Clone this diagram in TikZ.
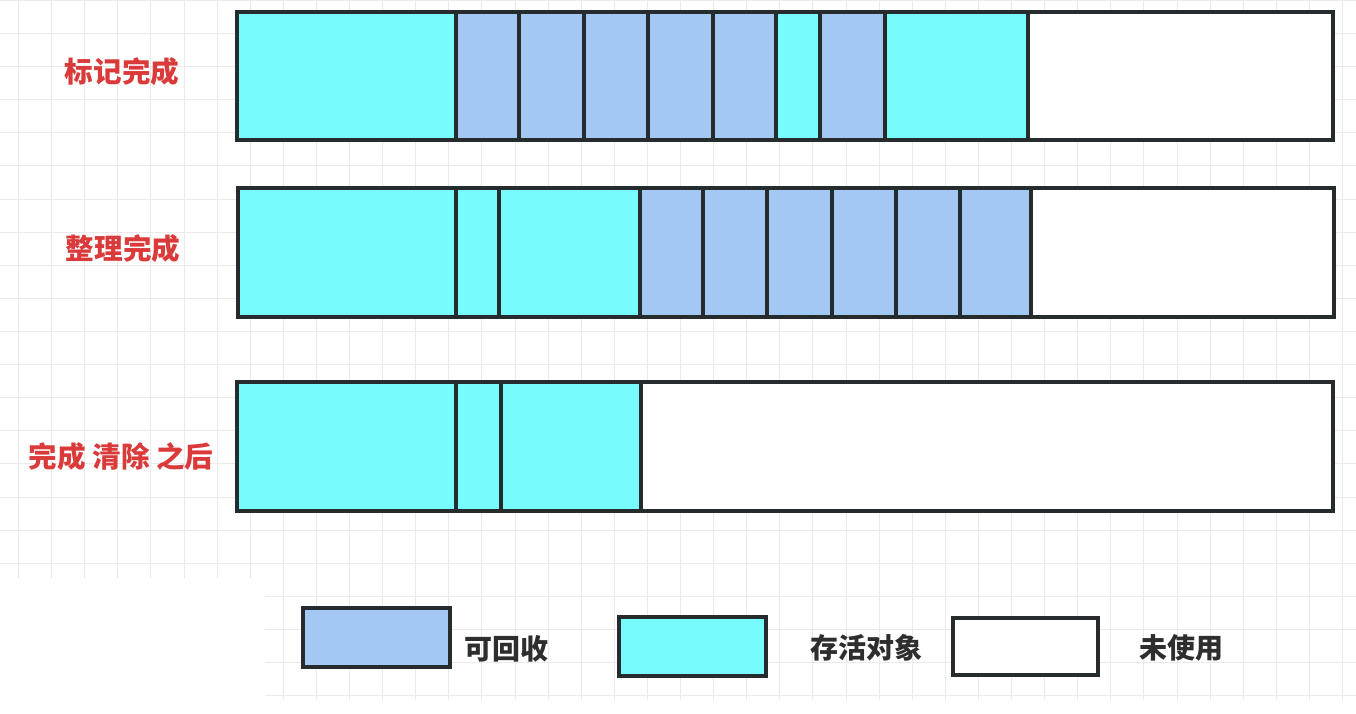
\documentclass[tikz,border=0pt]{standalone}
\usepackage{fontspec}
\newfontfamily\cjk{Noto Sans CJK SC}
\definecolor{live}{HTML}{78FBFC}
\definecolor{free}{HTML}{A4C8F4}
\definecolor{unused}{HTML}{FFFFFF}
\definecolor{edge}{HTML}{262C2E}
\definecolor{gridc}{HTML}{EAEAEA}
\definecolor{labred}{HTML}{DB3A3A}
\definecolor{legtext}{HTML}{2E2E2E}
\begin{document}
\begin{tikzpicture}[x=1pt,y=-1pt,
  cell/.style={rectangle, draw=edge, line width=3.4pt, inner sep=0pt, outer sep=0pt, anchor=north west},
  lab/.style={font=\cjk\bfseries\fontsize{28.6}{32}\selectfont, text=labred, inner sep=0pt},
  leg/.style={font=\cjk\bfseries\fontsize{28}{32}\selectfont, text=legtext, inner sep=0pt}]
\useasboundingbox (0,0) rectangle (1356,714);
\fill[white] (0,0) rectangle (1356,714);
% faint background grid
\begin{scope}
\clip (0,0) -- (1356,0) -- (1356,700) -- (265,700) -- (265,578) -- (0,578) -- cycle;
\foreach \k in {0,...,40} \draw[gridc, line width=1pt] ({18.5+33.1*\k},0) -- ++(0,714);
\foreach \k in {0,...,21} \draw[gridc, line width=1pt] (0,{0.5+33.1*\k}) -- ++(1356,0);
\end{scope}
% row 1: marking done
\foreach \a/\b/\c [count=\i] in {237/456/live, 456/519/free, 519/584/free, 584/648/free, 648/713/free, 713/776/free, 776/820/live, 820/885/free, 885/1028/live, 1028/1333/unused}
  \node[cell, fill=\c, minimum width={(\b-\a)*1pt}, minimum height=128pt] (ra\i) at (\a,12) {};
% row 2: compaction done
\foreach \a/\b/\c [count=\i] in {238/456/live, 456/499/live, 499/640/live, 640/703/free, 703/767/free, 767/832/free, 832/896/free, 896/960/free, 960/1031/free, 1031/1334/unused}
  \node[cell, fill=\c, minimum width={(\b-\a)*1pt}, minimum height=129pt] (rb\i) at (\a,188) {};
% row 3: after clearing
\foreach \a/\b/\c [count=\i] in {237/456/live, 456/501/live, 501/641/live, 641/1333/unused}
  \node[cell, fill=\c, minimum width={(\b-\a)*1pt}, minimum height=129pt] (rc\i) at (\a,382) {};
% row labels
\node[lab] (la) at (122,72) {标记完成};
\node[lab] (lb) at (123,249) {整理完成};
\node[lab] (lc) at (121,457) {完成 清除 之后};
% legend
\node[cell, fill=free, minimum width=147pt, minimum height=59pt] (kfree) at (303,608) {};
\node[leg] (tfree) at (506,649) {可回收};
\node[cell, fill=live, minimum width=147pt, minimum height=59pt] (klive) at (619,617) {};
\node[leg] (tlive) at (866,648) {存活对象};
\node[cell, fill=unused, minimum width=145pt, minimum height=57pt] (kunused) at (953,618) {};
\node[leg] (tunused) at (1181,648) {未使用};
\end{tikzpicture}
\end{document}
